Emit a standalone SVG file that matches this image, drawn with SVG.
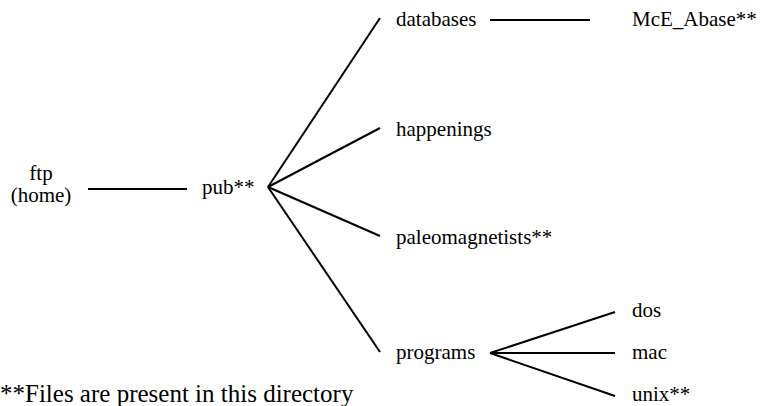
<svg xmlns="http://www.w3.org/2000/svg" width="765" height="406" viewBox="0 0 765 406">
<rect width="765" height="406" fill="#fff"/>
<g id="connectors" stroke="#000" stroke-width="2" fill="none">
<line x1="88" y1="189" x2="187" y2="189"/>
<line x1="268" y1="187" x2="380" y2="18"/>
<line x1="268" y1="187" x2="380" y2="128"/>
<line x1="268" y1="187" x2="380" y2="236"/>
<line x1="268" y1="187" x2="380" y2="352"/>
<line x1="490" y1="20" x2="590" y2="20"/>
<line x1="490" y1="353" x2="615" y2="312"/>
<line x1="490" y1="353" x2="615" y2="353"/>
<line x1="490" y1="353" x2="615" y2="396"/>
</g>
<text id="ftp" font-family="Liberation Serif" font-size="21" x="41" y="180" text-anchor="middle">ftp</text>
<text id="home" font-family="Liberation Serif" font-size="21" x="41" y="202" text-anchor="middle">(home)</text>
<text id="pub" font-family="Liberation Serif" font-size="21" x="202" y="194">pub**</text>
<text id="databases" font-family="Liberation Serif" font-size="21" x="396" y="26">databases</text>
<text id="mce" font-family="Liberation Serif" font-size="21" x="632" y="26">McE_Abase**</text>
<text id="happenings" font-family="Liberation Serif" font-size="21" x="396" y="136">happenings</text>
<text id="paleo" font-family="Liberation Serif" font-size="21" x="396" y="244">paleomagnetists**</text>
<text id="programs" font-family="Liberation Serif" font-size="21" x="396" y="359">programs</text>
<text id="dos" font-family="Liberation Serif" font-size="21" x="632" y="317">dos</text>
<text id="mac" font-family="Liberation Serif" font-size="21" x="632" y="359">mac</text>
<text id="unix" font-family="Liberation Serif" font-size="21" x="632" y="401">unix**</text>
<text id="note" font-family="Liberation Serif" font-size="25" x="0" y="402">**Files are present in this directory</text>
</svg>
